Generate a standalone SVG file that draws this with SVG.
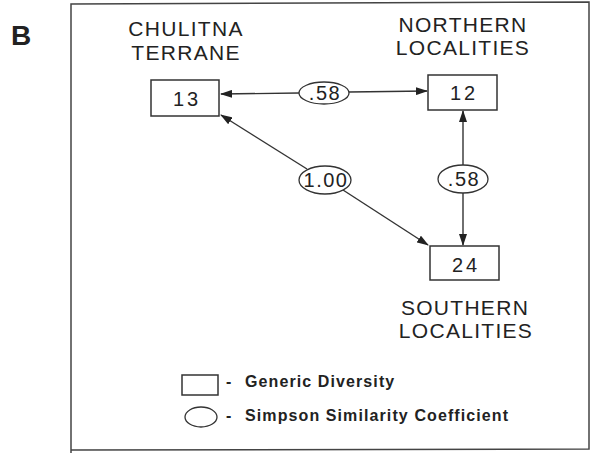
<svg xmlns="http://www.w3.org/2000/svg" width="591" height="453" viewBox="0 0 591 453">
<defs>
<marker id="ah" markerWidth="12" markerHeight="8" refX="11" refY="4" orient="auto" markerUnits="userSpaceOnUse">
<path d="M0,0 L12,4 L0,8 Z" fill="#222"/>
</marker>
<style>
text{font-family:"Liberation Sans",Arial,sans-serif;fill:#222}
.lbl{font-size:21px;letter-spacing:1.3px;text-anchor:middle}
.num{font-size:20px;letter-spacing:3px;text-anchor:middle}
.coef{font-size:20px;letter-spacing:1.5px;text-anchor:middle}
.leg{font-size:16px;font-weight:bold;letter-spacing:1.1px}
.box{fill:#fff;stroke:#333;stroke-width:1.5}
.ell{fill:#fff;stroke:#333;stroke-width:1.3}
.con{stroke:#333;stroke-width:1.4;fill:none}
</style>
</defs>
<rect width="591" height="453" fill="#fff"/>
<g id="frame">
<path d="M71,453 L71,4 L589,2 L589,449 L71,450" fill="none" stroke="#444" stroke-width="1.5"/>
<text x="11" y="45" style="font-size:28px;font-weight:bold">B</text>
</g>
<g id="connectors">
<line class="con" x1="299" y1="93" x2="221" y2="94" marker-end="url(#ah)"/>
<line class="con" x1="349" y1="92" x2="427" y2="91" marker-end="url(#ah)"/>
<line class="con" x1="307" y1="169" x2="221" y2="115" marker-end="url(#ah)"/>
<line class="con" x1="343" y1="190" x2="428" y2="245" marker-end="url(#ah)"/>
<line class="con" x1="463" y1="165" x2="463" y2="111" marker-end="url(#ah)"/>
<line class="con" x1="463" y1="193" x2="463" y2="245" marker-end="url(#ah)"/>
</g>
<g id="chulitna">
<text class="lbl" x="186" y="36">CHULITNA</text>
<text class="lbl" x="186" y="60">TERRANE</text>
<rect class="box" x="151" y="80" width="68" height="36"/>
<text class="num" x="187" y="106">13</text>
</g>
<g id="northern">
<text class="lbl" x="463" y="32">NORTHERN</text>
<text class="lbl" x="463" y="55">LOCALITIES</text>
<rect class="box" x="428" y="75" width="69" height="35"/>
<text class="num" x="464" y="100">12</text>
</g>
<g id="southern">
<rect class="box" x="430" y="246" width="69" height="34"/>
<text class="num" x="466" y="272">24</text>
<text class="lbl" x="465" y="315">SOUTHERN</text>
<text class="lbl" x="466" y="338">LOCALITIES</text>
</g>
<g id="coef-top">
<ellipse class="ell" cx="324" cy="93" rx="25" ry="11"/>
<text class="coef" x="325" y="100">.58</text>
</g>
<g id="coef-diag">
<ellipse class="ell" cx="325" cy="180" rx="26" ry="14"/>
<text class="coef" x="326" y="187">1.00</text>
</g>
<g id="coef-right">
<ellipse class="ell" cx="463" cy="179" rx="25" ry="14"/>
<text class="coef" x="464" y="186">.58</text>
</g>
<g id="legend">
<rect class="box" x="182" y="375" width="36" height="20"/>
<text class="leg" x="226" y="387">-</text>
<text class="leg" x="245" y="387">Generic Diversity</text>
<ellipse class="ell" cx="201" cy="417" rx="16" ry="10"/>
<text class="leg" x="226" y="421">-</text>
<text class="leg" x="245" y="421">Simpson Similarity Coefficient</text>
</g>
</svg>
